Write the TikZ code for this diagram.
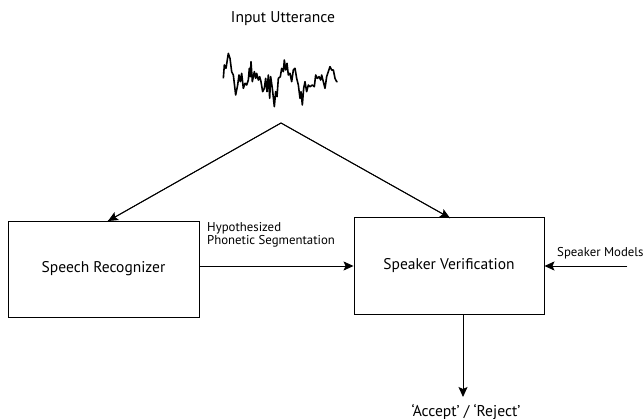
\documentclass[tikz,border=0pt]{standalone}
\usepackage{fontspec}
\setmainfont{PT Sans}
\usetikzlibrary{arrows.meta}
\begin{document}
\begin{tikzpicture}[x=1pt,y=-1pt,
  blk/.style={draw,line width=0.9pt,minimum width=191pt,minimum height=96pt,inner sep=0pt,font=\fontsize{15.5}{18}\selectfont},
  arr/.style={line width=0.9pt,-{Stealth[length=10pt,width=9pt,inset=2pt]}},
  big/.style={font=\fontsize{15.6}{18}\selectfont,inner sep=0pt},
  lbl/.style={font=\fontsize{12.8}{13.3}\selectfont,inner sep=0pt,align=left}]
\useasboundingbox (0,0) rectangle (644,419);
\node[big,anchor=base] (title) at (283,22.3) {Input Utterance};
\begin{scope}[shift={(215,45)},scale=1/3]
\draw[line width=1.6pt,line join=round] (25,100)--(28,60)--(33,70)--(40,25)--(45,40)--(50,80)--(55,90)--(62,150)--(68,120)--(72,90)--(76,110)--(80,85)--(85,130)--(90,115)--(95,120)--(100,105)--(103,70)--(106,95)--(108,50)--(112,110)--(118,80)--(122,100)--(125,85)--(130,105)--(134,95)--(138,110)--(143,140)--(148,130)--(152,100)--(156,140)--(160,90)--(164,160)--(167,95)--(172,130)--(178,185)--(182,140)--(186,155)--(190,100)--(196,95)--(200,70)--(205,80)--(208,45)--(212,75)--(216,55)--(220,90)--(225,85)--(230,110)--(235,75)--(240,70)--(245,100)--(250,120)--(255,160)--(258,140)--(262,180)--(266,130)--(270,110)--(275,140)--(280,120)--(285,125)--(292,120)--(298,125)--(302,90)--(307,100)--(312,95)--(317,105)--(320,90)--(325,110)--(330,130)--(335,95)--(340,80)--(345,65)--(350,75)--(355,75)--(360,100)--(365,110)--(368,110);
\end{scope}
\node[blk] (SR) at (103.5,269) {Speech Recognizer};
\node[blk,minimum width=190pt,minimum height=97pt] (SV) at (449,266) {Speaker Verification};
\coordinate (apex) at (281,123);
\coordinate (srtop) at (108,221);
\coordinate (svtop) at (450,218);
\draw[line width=0.9pt] (srtop) -- (apex) -- (svtop);
\draw[arr] (apex) -- (srtop);
\draw[arr] (apex) -- (svtop);
\draw[arr] (SR.east |- SV.west) -- (SV.west);
\node[lbl,anchor=base west] (hyp) at (207,245) {Hypothesized\\Phonetic Segmentation};
\node[lbl,anchor=base west] (sm) at (557,257) {Speaker Models};
\path (SV.east) ++(83,0) coordinate (smstart);
\draw[arr] (smstart) -- (SV.east);
\coordinate (out) at (463,397);
\draw[arr] (SV.south -| out) -- (out);
\node[big,anchor=base] (acc) at (466,416) {‘Accept’ / ‘Reject’};
\end{tikzpicture}
\end{document}
